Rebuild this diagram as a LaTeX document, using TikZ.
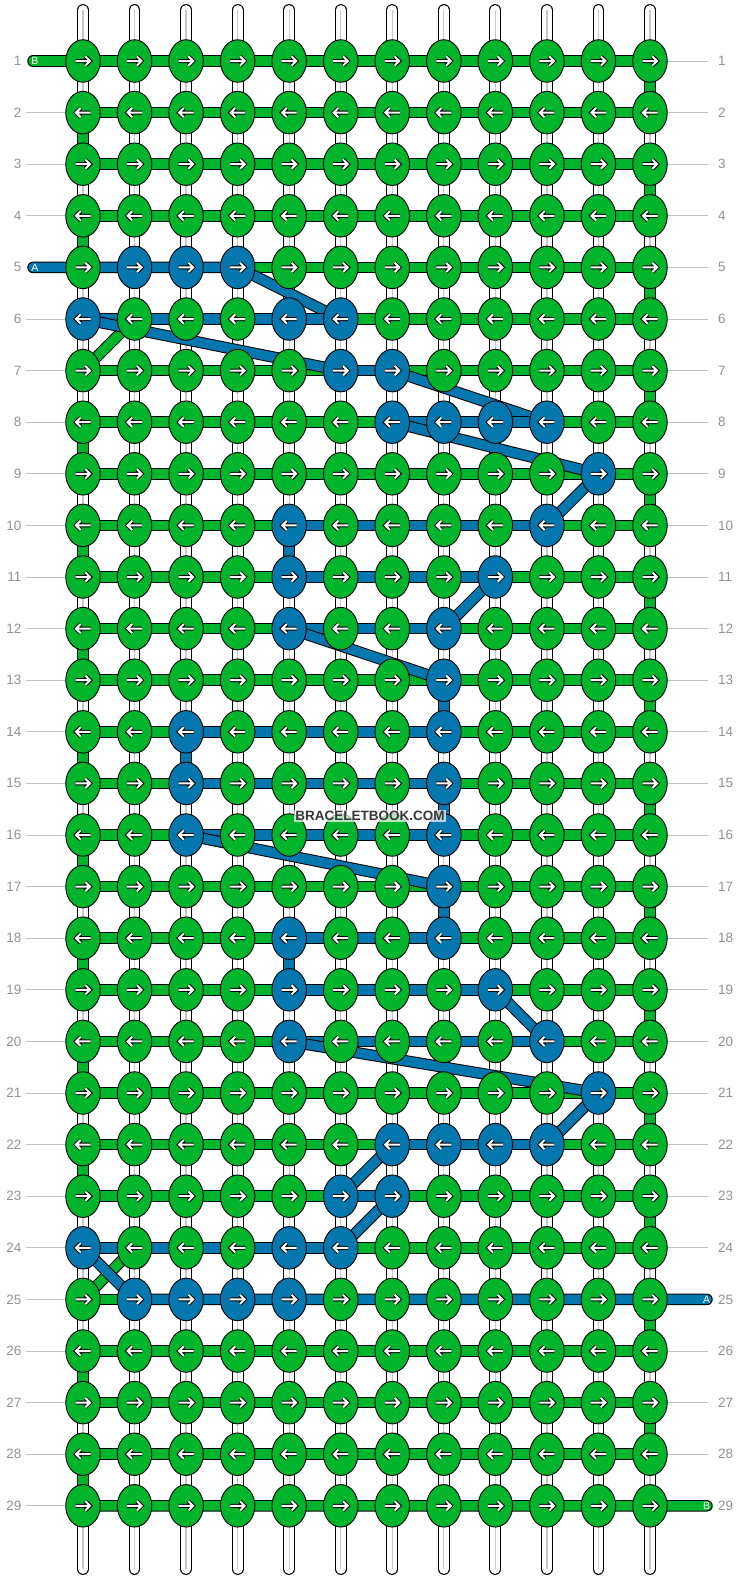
\documentclass[tikz,border=0pt]{standalone}
\usepackage{fontspec}
\setmainfont{Liberation Sans}
\usetikzlibrary{shapes.geometric}
\definecolor{kgreen}{RGB}{0,180,44}
\definecolor{kblue}{RGB}{4,119,175}
\definecolor{numgray}{RGB}{145,145,145}
\definecolor{linegray}{RGB}{192,192,192}
\definecolor{warpgray}{RGB}{200,200,200}
\definecolor{wmgray}{RGB}{55,55,55}
\begin{document}
\begin{tikzpicture}[x=1pt,y=-1pt,
  warp/.style={draw=black, line width=1pt, double=white, double distance=9.8pt, line cap=round},
  warpmid/.style={draw=warpgray, line width=1.2pt},
  gstr/.style={draw=black, line width=1pt, double=kgreen, double distance=9.5pt},
  bstr/.style={draw=black, line width=1pt, double=kblue, double distance=9.5pt},
  knot/.style={ellipse, draw=black, line width=0.9pt, minimum width=34.5pt, minimum height=42.5pt, inner sep=0pt},
  arrowout/.style={draw=black, line width=4pt},
  arrowin/.style={draw=white, line width=2pt},
  rownum/.style={text=numgray, font=\fontsize{13.5}{14}\selectfont, inner sep=0pt},
  rowline/.style={draw=linegray, line width=1pt},
  endlabel/.style={text=white, font=\fontsize{10.5}{11}\selectfont, inner sep=0pt},
  wmark/.style={text=wmgray, font=\bfseries\fontsize{13.5}{14}\selectfont, fill=white, fill opacity=0.7, text opacity=1, inner xsep=1.5pt, inner ysep=1.5pt}
]
\useasboundingbox (0,0) rectangle (740,1580);
% blue knots
\foreach \p in {5-2,5-3,5-4,6-1,6-5,6-6,7-6,7-7,8-7,8-8,8-9,8-10,9-11,10-5,10-10,11-5,11-9,12-5,12-8,13-8,14-3,14-8,15-3,15-8,16-3,16-8,17-8,18-5,18-8,19-5,19-9,20-5,20-10,21-11,22-7,22-8,22-9,22-10,23-6,23-7,24-1,24-5,24-6,25-2,25-3,25-4,25-5}
  {\expandafter\gdef\csname kb-\p\endcsname{}}
% positions
\foreach \r in {1,...,29}{\foreach \c in {1,...,12}{
  \coordinate (p-\r-\c) at ({83+(\c-1)*51.545},{61+(\r-1)*51.6});}}
\coordinate (bL) at (33,61);
\coordinate (aL) at (33,267.4);
\coordinate (aR) at (707,1299.4);
\coordinate (bR) at (707,1505.8);
% warp strings
\foreach \c in {1,...,12}{
  \coordinate (wt-\c) at ({83+(\c-1)*51.545},10);
  \coordinate (wb-\c) at ({83+(\c-1)*51.545},1569);
  \draw[warp] (wt-\c) -- (wb-\c);
  \draw[warpmid] (wt-\c) -- (wb-\c);
}
% row numbers and guide lines
\foreach \r in {1,...,29}{
  \node[rownum, anchor=east] (nl-\r) at (21.5,{61+(\r-1)*51.6}) {\r};
  \node[rownum, anchor=west] (nr-\r) at (718,{61+(\r-1)*51.6}) {\r};
}
\foreach \r in {2,3,4,6,7,...,29}{\draw[rowline] ([xshift=4.5pt]nl-\r.east) -- (p-\r-1);}
\foreach \r in {1,...,24,26,27,28}{\draw[rowline] (p-\r-12) -- ([xshift=-10pt]nr-\r.west);}
% string B (green)
\draw[gstr, line cap=round] (bL) -- (p-1-12);
\foreach \r in {2,...,28}{
  \ifnum\r=6 \def\s{2}\else\ifnum\r=24 \def\s{2}\else\def\s{1}\fi\fi
  \draw[gstr] (p-\r-\s) -- (p-\r-12);
}
\foreach \r [evaluate=\r as \n using int(\r+1)] in {1,3,...,27}{\draw[gstr] (p-\r-12) -- (p-\n-12);}
\foreach \r [evaluate=\r as \n using int(\r+1)] in {2,4,...,28}{
  \ifnum\r=6 \def\s{2}\else\ifnum\r=24 \def\s{2}\else\def\s{1}\fi\fi
  \draw[gstr] (p-\r-\s) -- (p-\n-1);
}
\draw[gstr, line cap=round] (p-29-1) -- (bR);
% string A (blue)
\draw[bstr, line cap=round] (aL) -- (p-5-4);
\foreach \a/\b in {p-5-4/p-6-6, p-6-6/p-6-1, p-6-1/p-7-6, p-7-6/p-7-7, p-7-7/p-8-10, p-8-10/p-8-7, p-8-7/p-9-11, p-9-11/p-10-10, p-10-10/p-10-5, p-10-5/p-11-5, p-11-5/p-11-9, p-11-9/p-12-8, p-12-8/p-12-5, p-12-5/p-13-8, p-13-8/p-14-8, p-14-8/p-14-3, p-14-3/p-15-3, p-15-3/p-15-8, p-15-8/p-16-8, p-16-8/p-16-3, p-16-3/p-17-8, p-17-8/p-18-8, p-18-8/p-18-5, p-18-5/p-19-5, p-19-5/p-19-9, p-19-9/p-20-10, p-20-10/p-20-5, p-20-5/p-21-11, p-21-11/p-22-10, p-22-10/p-22-7, p-22-7/p-23-6, p-23-6/p-23-7, p-23-7/p-24-6, p-24-6/p-24-1, p-24-1/p-25-2}
  {\draw[bstr] (\a) -- (\b);}
\draw[bstr, line cap=round] (p-25-2) -- (aR);
% end labels
\node[endlabel] (lbB1) at (35,61) {B};
\node[endlabel] (lbA1) at (35,267.4) {A};
\node[endlabel] (lbA2) at (706.5,1299.4) {A};
\node[endlabel] (lbB2) at (706.5,1505.8) {B};
% knots
\foreach \r in {1,...,29}{\foreach \c in {1,...,12}{
  \ifcsname kb-\r-\c\endcsname\def\kc{kblue}\else\def\kc{kgreen}\fi
  \ifodd\r\relax\def\dir{1}\else\def\dir{-1}\fi
  \node[knot, fill=\kc] (k-\r-\c) at (p-\r-\c) {};
  \begin{scope}[shift={(p-\r-\c)}, xscale=\dir]
    \draw[arrowout] (-7.5,0) -- (6.8,0) (2.4,-4.6) -- (7.0,0) -- (2.4,4.6);
    \draw[arrowin] (-7.5,0) -- (6.8,0) (2.4,-4.6) -- (7.0,0) -- (2.4,4.6);
  \end{scope}
}}
% watermark
\node[wmark] (wm) at (370,816) {BRACELETBOOK.COM};
\end{tikzpicture}
\end{document}
